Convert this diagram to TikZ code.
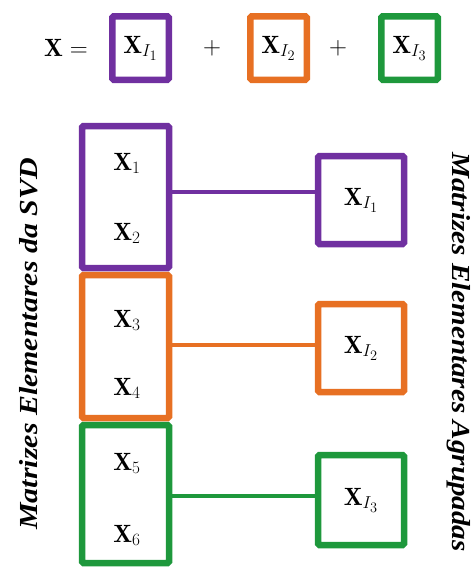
\documentclass[tikz,border=0pt]{standalone}
\usepackage{fontspec}
\newfontfamily\labelfont{Liberation Serif}
\DeclareMathSizes{25}{25}{17}{14}
\definecolor{gpurple}{RGB}{112,48,160}
\definecolor{gorange}{RGB}{231,112,35}
\definecolor{ggreen}{RGB}{30,152,60}
\begin{document}
\begin{tikzpicture}[x=1pt,y=-1pt,
  mtext/.style={font=\fontsize{25}{30}\selectfont, inner sep=0pt},
  box/.style={draw=#1, line width=6.5pt, rounded corners=1.5pt, inner sep=0pt, fill=white, font=\fontsize{25}{30}\selectfont},
  topbox/.style={box=#1, minimum width=56.5pt, minimum height=63.5pt},
  leftbox/.style={box=#1, minimum width=87pt},
  rightbox/.style={box=#1, minimum width=86pt, minimum height=88pt},
  link/.style={draw=#1, line width=4pt},
  sidelabel/.style={font=\labelfont\bfseries\itshape\fontsize{26}{30}\selectfont, inner sep=0pt}]
\useasboundingbox (0,0) rectangle (474,568);
% top equation
\node[mtext] (xeq) at (66,48) {$\mathbf{X} =$};
\node[topbox=gpurple] (t1) at (140.5,48) {$\mathbf{X}_{I_1}$};
\node[mtext] (plus1) at (212,48) {$+$};
\node[topbox=gorange] (t2) at (278.5,48) {$\mathbf{X}_{I_2}$};
\node[mtext] (plus2) at (338,48) {$+$};
\node[topbox=ggreen] (t3) at (409.5,48) {$\mathbf{X}_{I_3}$};
% left column
\node[leftbox=gpurple, minimum height=142pt] (l1) at (125.5,197) {};
\node[leftbox=gorange, minimum height=143pt] (l2) at (125.5,346.5) {};
\node[leftbox=ggreen, minimum height=138pt] (l3) at (125.5,494) {};
\node[mtext, anchor=base] (x1) at (127,170) {$\mathbf{X}_1$};
\node[mtext, anchor=base] (x2) at (127,240) {$\mathbf{X}_2$};
\node[mtext, anchor=base] (x3) at (127,327) {$\mathbf{X}_3$};
\node[mtext, anchor=base] (x4) at (127,395) {$\mathbf{X}_4$};
\node[mtext, anchor=base] (x5) at (127,470) {$\mathbf{X}_5$};
\node[mtext, anchor=base] (x6) at (127,542) {$\mathbf{X}_6$};
% right column
\node[rightbox=gpurple] (r1) at (361,200) {$\mathbf{X}_{I_1}$};
\node[rightbox=gorange] (r2) at (361,348) {$\mathbf{X}_{I_2}$};
\node[rightbox=ggreen, minimum height=90pt] (r3) at (361,500) {$\mathbf{X}_{I_3}$};
% connectors
\coordinate (c1) at ([yshift=5pt]l1.east);
\coordinate (c2) at ([yshift=1.5pt]l2.east);
\coordinate (c3) at ([yshift=-2pt]l3.east);
\draw[link=gpurple] (c1) -- (c1 -| r1.west);
\draw[link=gorange] (c2) -- (c2 -| r2.west);
\draw[link=ggreen] (c3) -- (c3 -| r3.west);
% side labels
\node[sidelabel, rotate=90] (svd) at (29,344) {\scalebox{1.15}[1]{Matrizes Elementares da SVD}};
\node[sidelabel, rotate=-90] (agr) at (459,352) {\scalebox{1.12}[1]{Matrizes Elementares Agrupadas}};
\end{tikzpicture}
\end{document}
